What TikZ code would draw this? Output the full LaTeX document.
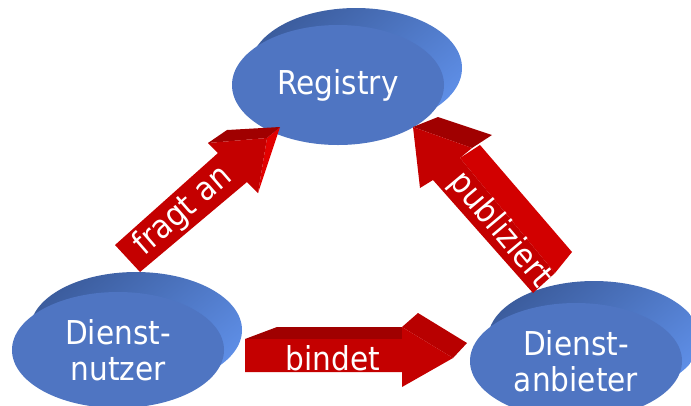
\documentclass[tikz,border=0pt]{standalone}
\usepackage{fontspec}
\setmainfont{DejaVu Sans}[FakeStretch=0.9]
\usetikzlibrary{shapes.geometric,calc}
\definecolor{discfront}{RGB}{79,117,194}
\definecolor{discdark}{RGB}{60,93,158}
\definecolor{disclight}{RGB}{94,142,230}
\definecolor{arrowfront}{RGB}{196,0,0}
\definecolor{arrowtop}{RGB}{160,0,0}
\definecolor{arrowheadtop}{RGB}{184,0,0}
\definecolor{arrowside}{RGB}{226,0,0}
\definecolor{arrowshaft}{RGB}{210,0,0}
\begin{document}
\begin{tikzpicture}[x=1bp,y=-1bp,
  disc/.style={ellipse, inner sep=0pt, minimum width=212bp, minimum height=116bp,
    fill=discfront, text=white, align=center, font=\fontsize{33}{36}\selectfont},
  discrim/.style={top color=discdark, bottom color=disclight, shading angle=40},
  afront/.style={fill=arrowfront},
  atop/.style={fill=arrowtop},
  aheadtop/.style={fill=arrowheadtop},
  aside/.style={fill=arrowside},
  ashaft/.style={fill=arrowshaft},
  alabel/.style={text=white, inner sep=0pt, font=\fontsize{33}{36}\selectfont}]
\clip (0,0) rectangle (691,405);

% disc centres
\coordinate (c-reg)  at (338,85);
\coordinate (c-nutz) at (118,350);
\coordinate (c-anb)  at (576,361);

% extruded rims behind the discs
\shade[discrim] ($(c-reg)+(18,-17)$)  ellipse [x radius=106bp, y radius=60bp];
\shade[discrim] ($(c-nutz)+(18,-20)$) ellipse [x radius=106bp, y radius=58bp];
\shade[discrim] ($(c-anb)+(18,-22)$)  ellipse [x radius=106bp, y radius=58bp];

% disc faces
\node[disc, minimum height=120bp] (reg) at (c-reg) {Registry};
\node[disc] (nutz) at (c-nutz) {Dienst-\\nutzer};
\node[disc] (anb)  at (c-anb)  {Dienst-\\anbieter};

% block arrow: fragt an
\fill[aside] (267,138) -- (280,127) -- (258,193) -- cycle;
\fill[atop] (208,143) -- (227,130) -- (280,127) -- (267,138) -- cycle;
\fill[afront] (115,245) -- (218,153) -- (208,143) -- (267,138) -- (258,193)
  -- (247,182) -- (140,272) -- cycle;
\node[alabel, rotate=41] (lfrag) at (183,211) {fragt an};

% block arrow: bindet
\fill[atop] (245,339) -- (277,327) -- (402,327) -- (402,339) -- cycle;
\fill[aheadtop] (402,327) -- (418,313) -- (467,343) -- (453,358) -- cycle;
\fill[afront] (245,339) -- (402,339) -- (402,327) -- (453,358) -- (402,387)
  -- (402,372) -- (245,372) -- cycle;
\node[alabel] (lbind) at (333,358) {bindet};

% block arrow: publiziert
\fill[ashaft] (460,158) -- (480,145) -- (572,252) -- (555,273) -- cycle;
\fill[atop] (413,127) -- (438,117) -- (492,135) -- (472,148) -- cycle;
\fill[afront] (413,127) -- (472,148) -- (460,158) -- (555,273) -- (533,293)
  -- (433,180) -- (420,188) -- cycle;
\node[alabel, rotate=-50] (lpub) at (500,230) {publiziert};
\end{tikzpicture}
\end{document}
